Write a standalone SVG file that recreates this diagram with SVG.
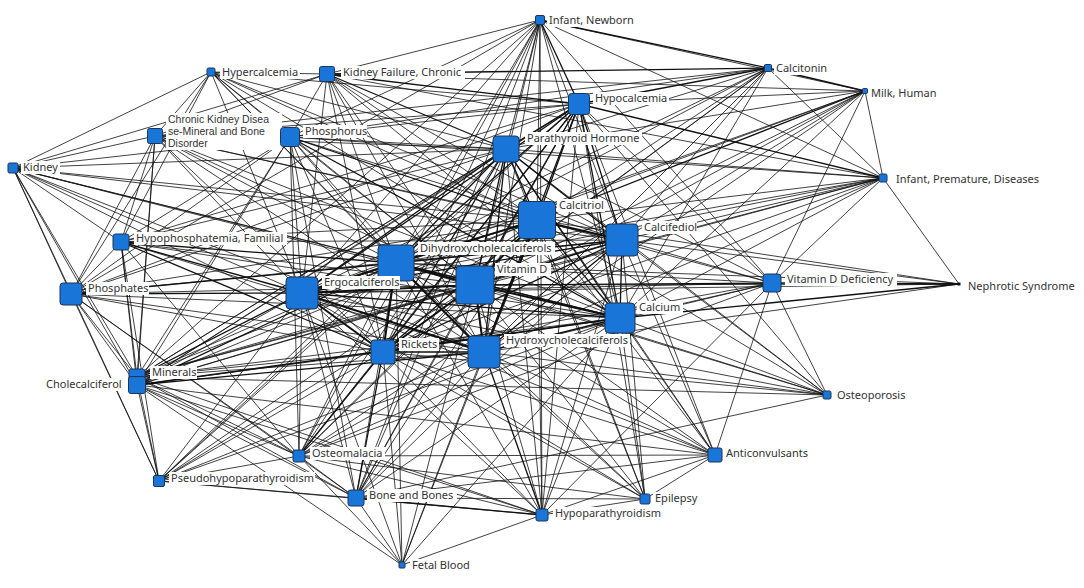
<svg xmlns="http://www.w3.org/2000/svg" width="1084" height="588" viewBox="0 0 1084 588">
<style>
.e path{stroke:#111;stroke-width:0.8;fill:none}
.e path.w2{stroke-width:1.3}
.e path.w3{stroke-width:2}
.n{fill:#1976d8;stroke:#1d3557;stroke-width:1}
.bg{fill:#fff}
.t{font-family:"Noto Sans","DejaVu Sans",sans-serif;font-size:11px;fill:#333}
.s{font-family:"Liberation Sans",Arial,sans-serif;font-size:10.5px}
</style>
<rect width="1084" height="588" fill="#fff"/>
<g id="edges" class="e">
<path class="w3" d="M475 285L537 220"/><path class="w3" d="M475 285L396 263"/><path class="w3" d="M475 285L484 352"/><path class="w3" d="M475 285L302 293"/><path class="w2" d="M475 285L622 240"/><path class="w3" d="M475 285L620 318"/><path class="w3" d="M475 285L383 352"/><path class="w2" d="M475 285L506 149"/><path class="w2" d="M475 285L579 104"/>
<path class="w3" d="M537 220L396 263"/><path class="w3" d="M537 220L484 352"/><path class="w2" d="M537 220L302 293"/><path class="w3" d="M537 220L622 240"/><path class="w2" d="M537 220L620 318"/><path class="w2" d="M537 220L383 352"/><path class="w2" d="M537 220L506 149"/><path class="w2" d="M537 220L579 104"/>
<path class="w3" d="M396 263L484 352"/><path class="w3" d="M396 263L302 293"/><path class="w2" d="M396 263L622 240"/><path class="w2" d="M396 263L620 318"/><path class="w3" d="M396 263L383 352"/><path class="w2" d="M396 263L506 149"/><path class="w2" d="M396 263L579 104"/>
<path class="w3" d="M484 352L302 293"/><path class="w2" d="M484 352L622 240"/><path class="w2" d="M484 352L620 318"/><path class="w2" d="M484 352L383 352"/><path class="w2" d="M484 352L506 149"/><path class="w2" d="M484 352L579 104"/>
<path class="w2" d="M302 293L622 240"/><path class="w2" d="M302 293L620 318"/><path class="w3" d="M302 293L383 352"/><path class="w2" d="M302 293L506 149"/><path class="w2" d="M302 293L579 104"/>
<path class="w2" d="M622 240L620 318"/><path class="w2" d="M622 240L383 352"/><path class="w2" d="M622 240L506 149"/><path class="w2" d="M622 240L579 104"/>
<path class="w2" d="M620 318L383 352"/><path class="w2" d="M620 318L506 149"/><path class="w2" d="M620 318L579 104"/>
<path class="w2" d="M383 352L506 149"/><path class="w2" d="M383 352L579 104"/><path class="w2" d="M506 149L579 104"/>
<path d="M290 137L475 285"/><path class="w2" d="M290 137L537 220"/><path d="M290 137L396 263"/><path d="M290 137L484 352"/><path d="M290 137L302 293"/><path d="M290 137L622 240"/><path class="w2" d="M290 137L620 318"/><path d="M290 137L383 352"/><path d="M290 137L506 149"/><path d="M290 137L579 104"/>
<path d="M71 294L475 285"/><path d="M71 294L537 220"/><path class="w2" d="M71 294L396 263"/><path d="M71 294L484 352"/><path class="w2" d="M71 294L302 293"/><path d="M71 294L622 240"/><path d="M71 294L620 318"/><path d="M71 294L383 352"/><path d="M71 294L506 149"/><path d="M71 294L579 104"/>
<path d="M137 377L475 285"/><path d="M137 377L537 220"/><path d="M137 377L396 263"/><path d="M137 377L484 352"/><path class="w2" d="M137 377L302 293"/><path d="M137 377L622 240"/><path d="M137 377L620 318"/><path d="M137 377L383 352"/><path d="M137 377L506 149"/><path d="M137 377L579 104"/>
<path d="M137 385L475 285"/><path d="M137 385L537 220"/><path class="w2" d="M137 385L396 263"/><path class="w2" d="M137 385L484 352"/><path d="M137 385L302 293"/><path d="M137 385L622 240"/><path class="w2" d="M137 385L620 318"/><path d="M137 385L383 352"/><path d="M137 385L506 149"/><path d="M137 385L579 104"/>
<path d="M356 498L475 285"/><path d="M356 498L537 220"/><path d="M356 498L396 263"/><path d="M356 498L484 352"/><path d="M356 498L302 293"/><path d="M356 498L622 240"/><path d="M356 498L620 318"/><path class="w2" d="M356 498L383 352"/><path d="M356 498L506 149"/><path d="M356 498L579 104"/>
<path d="M299 456L475 285"/><path d="M299 456L537 220"/><path d="M299 456L396 263"/><path d="M299 456L484 352"/><path d="M299 456L302 293"/><path d="M299 456L622 240"/><path d="M299 456L620 318"/><path class="w2" d="M299 456L383 352"/><path d="M299 456L506 149"/><path d="M299 456L579 104"/>
<path d="M542 515L475 285"/><path d="M542 515L537 220"/><path d="M542 515L396 263"/><path class="w2" d="M542 515L484 352"/><path d="M542 515L302 293"/><path d="M542 515L622 240"/><path d="M542 515L620 318"/><path d="M542 515L383 352"/><path d="M542 515L506 149"/><path d="M542 515L579 104"/>
<path class="w2" d="M772 283L475 285"/><path d="M772 283L537 220"/><path d="M772 283L396 263"/><path d="M772 283L484 352"/><path d="M772 283L302 293"/><path d="M772 283L622 240"/><path d="M772 283L620 318"/><path d="M772 283L383 352"/><path d="M772 283L506 149"/><path d="M772 283L579 104"/>
<path d="M327 74L475 285"/><path d="M327 74L537 220"/><path d="M327 74L396 263"/><path d="M327 74L484 352"/><path d="M327 74L302 293"/><path d="M327 74L622 240"/><path d="M327 74L620 318"/><path d="M327 74L383 352"/><path class="w2" d="M327 74L506 149"/><path class="w2" d="M327 74L579 104"/>
<path d="M121 242L475 285"/><path d="M121 242L537 220"/><path class="w2" d="M121 242L396 263"/><path d="M121 242L484 352"/><path class="w2" d="M121 242L302 293"/><path d="M121 242L622 240"/><path d="M121 242L620 318"/><path class="w2" d="M121 242L383 352"/><path d="M121 242L506 149"/><path d="M121 242L579 104"/>
<path d="M155 136L475 285"/><path d="M155 136L537 220"/><path d="M155 136L396 263"/><path d="M155 136L484 352"/><path d="M155 136L302 293"/><path d="M155 136L622 240"/><path d="M155 136L620 318"/><path d="M155 136L383 352"/><path d="M155 136L506 149"/><path d="M155 136L579 104"/>
<path d="M290 137L327 74"/><path d="M290 137L155 136"/><path d="M290 137L71 294"/><path d="M290 137L121 242"/><path d="M290 137L137 377"/><path d="M290 137L137 385"/><path d="M290 137L356 498"/><path d="M290 137L299 456"/>
<path d="M71 294L121 242"/><path d="M71 294L137 377"/><path d="M71 294L137 385"/><path d="M71 294L155 136"/><path d="M71 294L356 498"/><path d="M71 294L299 456"/>
<path d="M137 377L121 242"/><path d="M137 377L155 136"/><path d="M137 377L356 498"/><path d="M137 377L299 456"/><path d="M137 377L542 515"/>
<path d="M137 385L121 242"/><path d="M137 385L155 136"/><path d="M137 385L356 498"/><path d="M137 385L299 456"/><path d="M137 385L542 515"/>
<path d="M356 498L299 456"/><path class="w2" d="M356 498L542 515"/><path d="M299 456L121 242"/><path d="M299 456L542 515"/><path d="M299 456L772 283"/><path d="M542 515L772 283"/><path d="M327 74L155 136"/><path d="M121 242L155 136"/>
<path d="M540 20L537 220"/><path d="M540 20L622 240"/><path d="M540 20L475 285"/><path d="M540 20L396 263"/><path d="M540 20L484 352"/><path d="M540 20L302 293"/><path d="M540 20L620 318"/><path d="M540 20L383 352"/><path d="M540 20L506 149"/><path class="w2" d="M540 20L579 104"/><path d="M540 20L327 74"/><path d="M540 20L290 137"/><path class="w2" d="M540 20L768 68"/><path d="M540 20L865 91"/><path d="M540 20L883 178"/><path d="M540 20L772 283"/><path d="M540 20L542 515"/><path d="M540 20L356 498"/><path d="M540 20L137 377"/><path d="M540 20L71 294"/><path d="M540 20L299 456"/>
<path class="w2" d="M768 68L579 104"/><path d="M768 68L506 149"/><path class="w2" d="M768 68L327 74"/><path d="M768 68L290 137"/><path d="M768 68L537 220"/><path d="M768 68L622 240"/><path d="M768 68L475 285"/><path d="M768 68L396 263"/><path d="M768 68L484 352"/><path d="M768 68L302 293"/><path d="M768 68L620 318"/><path d="M768 68L383 352"/><path class="w2" d="M768 68L865 91"/><path d="M768 68L883 178"/><path d="M768 68L155 136"/>
<path d="M865 91L579 104"/><path d="M865 91L506 149"/><path class="w2" d="M865 91L537 220"/><path d="M865 91L622 240"/><path d="M865 91L475 285"/><path d="M865 91L396 263"/><path d="M865 91L484 352"/><path d="M865 91L620 318"/><path d="M865 91L302 293"/><path d="M865 91L383 352"/><path d="M865 91L772 283"/><path d="M865 91L883 178"/><path d="M865 91L327 74"/>
<path d="M883 178L537 220"/><path d="M883 178L622 240"/><path d="M883 178L475 285"/><path d="M883 178L396 263"/><path d="M883 178L484 352"/><path d="M883 178L302 293"/><path d="M883 178L620 318"/><path d="M883 178L383 352"/><path d="M883 178L506 149"/><path class="w2" d="M883 178L579 104"/><path d="M883 178L959 284"/><path d="M883 178L772 283"/><path d="M883 178L290 137"/><path d="M883 178L327 74"/><path d="M883 178L137 377"/>
<path d="M211 72L13 168"/><path d="M211 72L155 136"/><path d="M211 72L290 137"/><path d="M211 72L327 74"/><path d="M211 72L506 149"/><path d="M211 72L537 220"/><path d="M211 72L396 263"/><path d="M211 72L475 285"/><path d="M211 72L302 293"/><path d="M211 72L579 104"/><path d="M211 72L620 318"/><path d="M211 72L484 352"/><path d="M211 72L622 240"/><path d="M211 72L71 294"/><path d="M211 72L121 242"/>
<path d="M13 168L155 136"/><path d="M13 168L290 137"/><path d="M13 168L71 294"/><path d="M13 168L137 377"/><path d="M13 168L137 385"/><path d="M13 168L121 242"/><path d="M13 168L506 149"/><path d="M13 168L537 220"/><path d="M13 168L396 263"/><path d="M13 168L475 285"/><path d="M13 168L302 293"/><path d="M13 168L484 352"/><path d="M13 168L620 318"/><path d="M13 168L383 352"/><path d="M13 168L159 481"/><path d="M13 168L622 240"/><path d="M13 168L327 74"/>
<path class="w2" d="M959 284L772 283"/><path d="M959 284L537 220"/><path d="M959 284L622 240"/><path d="M959 284L475 285"/><path class="w2" d="M959 284L620 318"/><path d="M959 284L484 352"/><path d="M959 284L396 263"/><path d="M959 284L302 293"/>
<path d="M827 395L772 283"/><path d="M827 395L620 318"/><path d="M827 395L475 285"/><path d="M827 395L537 220"/><path d="M827 395L622 240"/><path d="M827 395L484 352"/><path d="M827 395L396 263"/><path d="M827 395L302 293"/><path d="M827 395L383 352"/><path d="M827 395L506 149"/><path d="M827 395L579 104"/><path d="M827 395L137 377"/><path d="M827 395L356 498"/>
<path d="M715 455L475 285"/><path d="M715 455L537 220"/><path d="M715 455L622 240"/><path d="M715 455L484 352"/><path d="M715 455L396 263"/><path d="M715 455L302 293"/><path d="M715 455L620 318"/><path d="M715 455L383 352"/><path d="M715 455L299 456"/><path d="M715 455L645 499"/><path d="M715 455L542 515"/><path d="M715 455L772 283"/><path d="M715 455L356 498"/><path d="M715 455L137 385"/><path d="M715 455L506 149"/><path d="M715 455L579 104"/>
<path d="M159 481L137 377"/><path d="M159 481L137 385"/><path d="M159 481L71 294"/><path d="M159 481L121 242"/><path d="M159 481L506 149"/><path d="M159 481L537 220"/><path d="M159 481L475 285"/><path d="M159 481L396 263"/><path d="M159 481L484 352"/><path d="M159 481L579 104"/><path d="M159 481L620 318"/><path d="M159 481L356 498"/><path d="M159 481L542 515"/><path d="M159 481L299 456"/><path d="M159 481L302 293"/><path d="M159 481L383 352"/>
<path d="M645 499L475 285"/><path d="M645 499L484 352"/><path d="M645 499L537 220"/><path d="M645 499L622 240"/><path d="M645 499L396 263"/><path d="M645 499L302 293"/><path d="M645 499L620 318"/><path d="M645 499L383 352"/><path d="M645 499L299 456"/><path d="M645 499L542 515"/><path d="M645 499L356 498"/><path d="M645 499L506 149"/><path d="M645 499L579 104"/>
<path d="M402 565L356 498"/><path d="M402 565L383 352"/><path d="M402 565L302 293"/><path d="M402 565L299 456"/><path d="M402 565L542 515"/><path d="M402 565L475 285"/><path d="M402 565L484 352"/><path d="M402 565L396 263"/><path d="M402 565L537 220"/><path d="M402 565L137 385"/><path d="M402 565L620 318"/>
</g>
<g id="n-newborn"><rect class="bg" x="547" y="14" width="90" height="13"/><rect class="n" x="535.5" y="15.5" width="9" height="9" rx="1.5"/><text class="t" x="549" y="24">Infant, Newborn</text></g>
<g id="n-calcitonin"><rect class="bg" x="774" y="62" width="55" height="13"/><rect class="n" x="764.5" y="64.5" width="7" height="7" rx="1"/><text class="t" x="776" y="72">Calcitonin</text></g>
<g id="n-milk"><rect class="bg" x="869" y="87" width="70" height="13"/><rect class="n" x="862.5" y="88.5" width="5" height="5" rx="1"/><text class="t" x="871" y="97">Milk, Human</text></g>
<g id="n-hypercalcemia"><rect class="bg" x="220" y="66" width="80" height="13"/><rect class="n" x="207" y="68" width="8" height="8" rx="1.5"/><text class="t" x="222" y="76">Hypercalcemia</text></g>
<g id="n-kidneyfailure"><rect class="bg" x="341" y="66" width="124" height="13"/><rect class="n" x="319.5" y="66.5" width="15" height="15" rx="2"/><text class="t" x="343" y="76">Kidney Failure, Chronic</text></g>
<g id="n-hypocalcemia"><rect class="bg" x="593" y="92" width="76" height="13"/><rect class="n" x="568.5" y="93.5" width="21" height="21" rx="3"/><text class="t" x="595" y="102">Hypocalcemia</text></g>
<g id="n-ckdmbd"><rect class="bg" x="166" y="113" width="116" height="37"/><rect class="n" x="147.5" y="128.5" width="15" height="15" rx="2"/><text class="t s" x="168" y="123"><tspan x="168" y="123">Chronic Kidney Disea</tspan><tspan x="168" y="135">se-Mineral and Bone</tspan><tspan x="168" y="147">Disorder</tspan></text></g>
<g id="n-phosphorus"><rect class="bg" x="303" y="125" width="64" height="13"/><rect class="n" x="280.5" y="127.5" width="19" height="19" rx="3"/><text class="t" x="305" y="135">Phosphorus</text></g>
<g id="n-pth"><rect class="bg" x="525" y="132" width="117" height="13"/><rect class="n" x="493" y="136" width="26" height="26" rx="3.5"/><text class="t" x="527" y="142">Parathyroid Hormone</text></g>
<g id="n-kidney"><rect class="bg" x="21" y="161" width="39" height="13"/><rect class="n" x="8" y="163" width="10" height="10" rx="1.5"/><text class="t" x="23" y="171">Kidney</text></g>
<g id="n-infantpremature"><rect class="bg" x="894" y="173" width="151" height="13"/><rect class="n" x="879" y="174" width="8" height="8" rx="1.5"/><text class="t" x="896" y="183">Infant, Premature, Diseases</text></g>
<g id="n-calcitriol"><rect class="bg" x="557" y="199" width="48" height="13"/><rect class="n" x="518.5" y="201.5" width="37" height="37" rx="4"/><text class="t" x="559" y="209">Calcitriol</text></g>
<g id="n-calcifediol"><rect class="bg" x="642" y="221" width="55" height="13"/><rect class="n" x="606" y="224" width="32" height="32" rx="4"/><text class="t" x="644" y="231">Calcifediol</text></g>
<g id="n-hypophosphatemia"><rect class="bg" x="134" y="232" width="153" height="13"/><rect class="n" x="113" y="234" width="16" height="16" rx="2.5"/><text class="t" x="136" y="242">Hypophosphatemia, Familial</text></g>
<g id="n-dihydroxy"><rect class="bg" x="418" y="242" width="137" height="13"/><rect class="n" x="378" y="245" width="36" height="36" rx="4"/><text class="t" x="420" y="252">Dihydroxycholecalciferols</text></g>
<g id="n-vitamind"><rect class="bg" x="495" y="263" width="56" height="13"/><rect class="n" x="456" y="266" width="38" height="38" rx="4"/><text class="t" x="497" y="273">Vitamin D</text></g>
<g id="n-ergocalciferols"><rect class="bg" x="322" y="276" width="78" height="13"/><rect class="n" x="286" y="277" width="32" height="32" rx="4"/><text class="t" x="324" y="286">Ergocalciferols</text></g>
<g id="n-phosphates"><rect class="bg" x="86" y="282" width="63" height="13"/><rect class="n" x="60" y="283" width="22" height="22" rx="3"/><text class="t" x="88" y="292">Phosphates</text></g>
<g id="n-vitddef"><rect class="bg" x="785" y="273" width="112" height="13"/><rect class="n" x="763" y="274" width="18" height="18" rx="3"/><text class="t" x="787" y="283">Vitamin D Deficiency</text></g>
<g id="n-nephrotic"><rect class="bg" x="966" y="280" width="112" height="13"/><rect x="957.5" y="282.5" width="3" height="3" fill="#111"/><text class="t" x="968" y="290">Nephrotic Syndrome</text></g>
<g id="n-calcium"><rect class="bg" x="637" y="301" width="46" height="13"/><rect class="n" x="605" y="303" width="30" height="30" rx="4"/><text class="t" x="639" y="311">Calcium</text></g>
<g id="n-rickets"><rect class="bg" x="399" y="338" width="40" height="13"/><rect class="n" x="371" y="340" width="24" height="24" rx="3"/><text class="t" x="401" y="348">Rickets</text></g>
<g id="n-hydroxy"><rect class="bg" x="504" y="334" width="126" height="13"/><rect class="n" x="468" y="336" width="32" height="32" rx="4"/><text class="t" x="506" y="344">Hydroxycholecalciferols</text></g>
<g id="n-minerals"><rect class="bg" x="150" y="366" width="47" height="13"/><rect class="n" x="129" y="369" width="16" height="16" rx="2.5"/><text class="t" x="152" y="376">Minerals</text></g>
<g id="n-cholecalciferol"><rect class="bg" x="44" y="378" width="79" height="13"/><rect class="n" x="128.5" y="376.5" width="17" height="17" rx="2.5"/><text class="t" x="46" y="388">Cholecalciferol</text></g>
<g id="n-osteoporosis"><rect class="bg" x="835" y="389" width="72" height="13"/><rect class="n" x="823" y="391" width="8" height="8" rx="1.5"/><text class="t" x="837" y="399">Osteoporosis</text></g>
<g id="n-osteomalacia"><rect class="bg" x="310" y="447" width="75" height="13"/><rect class="n" x="293" y="450" width="12" height="12" rx="2"/><text class="t" x="312" y="457">Osteomalacia</text></g>
<g id="n-anticonvulsants"><rect class="bg" x="724" y="447" width="86" height="13"/><rect class="n" x="708" y="448" width="14" height="14" rx="2"/><text class="t" x="726" y="457">Anticonvulsants</text></g>
<g id="n-pseudohypo"><rect class="bg" x="169" y="472" width="146" height="13"/><rect class="n" x="153.5" y="475.5" width="11" height="11" rx="1.5"/><text class="t" x="171" y="482">Pseudohypoparathyroidism</text></g>
<g id="n-bone"><rect class="bg" x="367" y="489" width="90" height="13"/><rect class="n" x="348" y="490" width="16" height="16" rx="2.5"/><text class="t" x="369" y="499">Bone and Bones</text></g>
<g id="n-epilepsy"><rect class="bg" x="653" y="492" width="46" height="13"/><rect class="n" x="640" y="494" width="10" height="10" rx="1.5"/><text class="t" x="655" y="502">Epilepsy</text></g>
<g id="n-hypopara"><rect class="bg" x="553" y="507" width="110" height="13"/><rect class="n" x="536" y="509" width="12" height="12" rx="2"/><text class="t" x="555" y="517">Hypoparathyroidism</text></g>
<g id="n-fetalblood"><rect class="bg" x="410" y="559" width="62" height="13"/><rect class="n" x="399" y="562" width="6" height="6" rx="1"/><text class="t" x="412" y="569">Fetal Blood</text></g>
</svg>
